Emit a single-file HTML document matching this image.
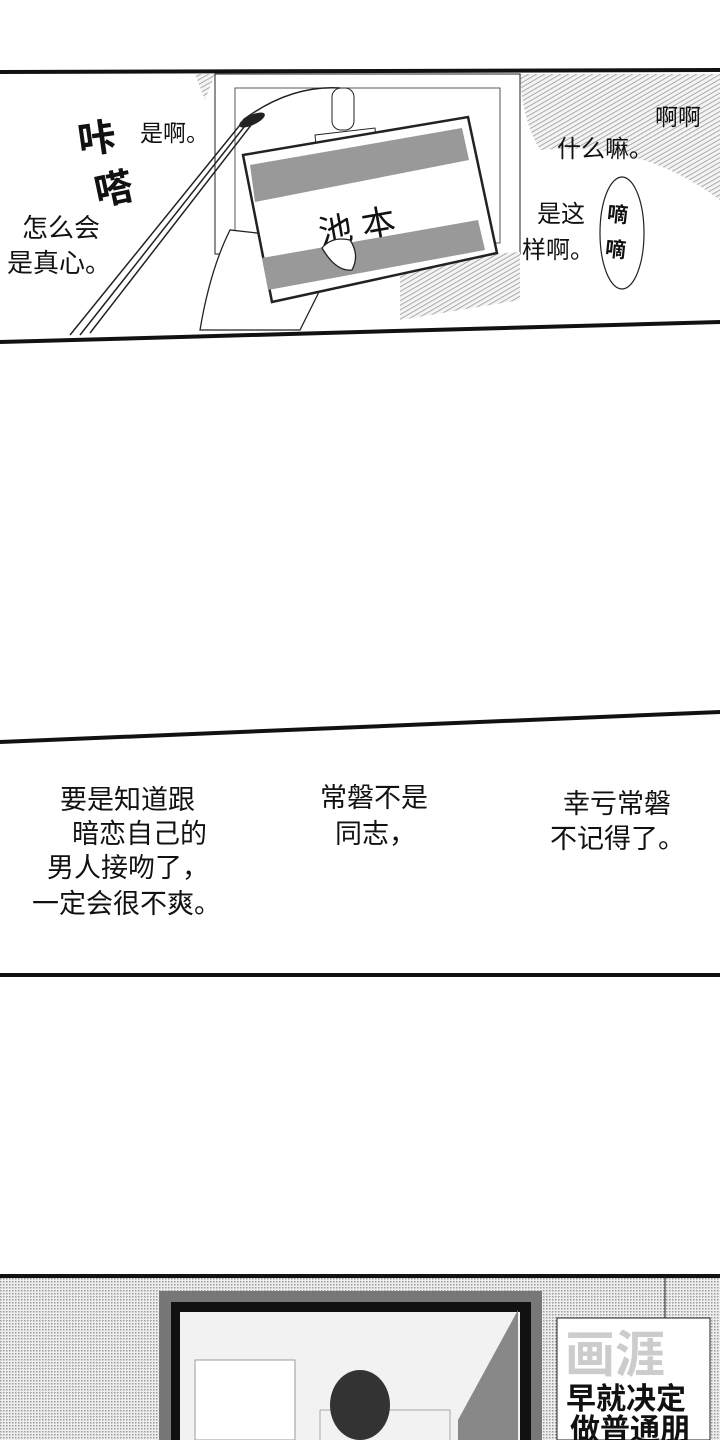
<!DOCTYPE html>
<html><head><meta charset="utf-8"><style>
html,body{margin:0;padding:0;background:#fff;}
body{width:720px;height:1440px;position:relative;overflow:hidden;font-family:"Liberation Sans","Noto Sans CJK SC",sans-serif;}
svg{position:absolute;left:0;top:0;}
text{font-family:"Liberation Sans","Noto Sans CJK SC",sans-serif;fill:#111;}
</style></head><body>
<svg width="720" height="1440" viewBox="0 0 720 1440">
<defs>
<pattern id="dots" width="3" height="3" patternUnits="userSpaceOnUse"><rect width="3" height="3" fill="#eee"/><rect width="1.5" height="1.5" fill="#999"/></pattern>
<pattern id="hatch" width="4" height="4" patternUnits="userSpaceOnUse" patternTransform="rotate(60)"><rect width="4" height="4" fill="#f4f4f4"/><rect width="1" height="4" fill="#aaa"/></pattern>
</defs>
<path d="M520 74 L720 74 L720 200 Q640 140 540 150 Q522 120 520 74Z" fill="url(#hatch)"/>
<path d="M195 74 L215 74 L205 100Z" fill="url(#hatch)"/>
<rect x="215" y="74" width="305" height="180" fill="#fff" stroke="#222" stroke-width="1"/>
<rect x="235" y="88" width="265" height="155" fill="#fff" stroke="#555" stroke-width="1"/>
<path d="M520 252 L520 300 L400 320 L400 260Z" fill="url(#hatch)"/>
<path d="M315 135 L375 128 L378 160 L318 165Z" fill="#fff" stroke="#222"/>
<rect x="332" y="88" width="22" height="42" rx="9" fill="#fff" stroke="#222"/>
<path d="M70 335 L240 125 M80 335 L248 122 M90 333 L255 120 M243 120 Q290 85 340 88" stroke="#222" fill="none" stroke-width="1.5"/>
<ellipse cx="252" cy="120" rx="14" ry="5" transform="rotate(-25 252 120)" fill="#222"/>
<path d="M230 230 Q210 270 200 330 L300 330 L320 290 Q340 280 355 240 Q340 232 320 240 Z" fill="#fff" stroke="#222" stroke-width="1.3"/>
<path d="M243 155 L468 117 L497 253 L272 302 Z" fill="#fff" stroke="#222" stroke-width="2.5"/>
<path d="M250 165 L462 128 L469 160 L255 202 Z" fill="#999"/>
<path d="M262 258 L478 220 L485 250 L268 290 Z" fill="#999"/>
<text x="318" y="238" font-size="34" transform="rotate(-10 360 225)">池 本</text>
<path d="M322 248 Q332 236 350 240 Q360 255 352 270 Q336 272 322 248Z" fill="#fff" stroke="#222" stroke-width="1.3"/>
<path d="M0 72 L720 70" stroke="#111" stroke-width="4"/>
<path d="M0 342 L720 322" stroke="#111" stroke-width="4"/>
<text x="78" y="152" font-size="38" font-weight="bold" transform="rotate(-8 95 140)">咔</text>
<text x="95" y="203" font-size="38" font-weight="bold" transform="rotate(-12 110 190)">嗒</text>
<text x="140" y="141" font-size="23">是啊。</text>
<text x="22" y="237" font-size="26">怎么会</text>
<text x="7" y="272" font-size="26">是真心。</text>
<text x="655" y="125" font-size="23">啊啊</text>
<text x="557" y="157" font-size="24">什么嘛。</text>
<text x="537" y="222" font-size="24">是这</text>
<text x="522" y="258" font-size="24">样啊。</text>
<ellipse cx="622" cy="233" rx="22" ry="56" fill="#fff" stroke="#222" stroke-width="1.2"/>
<text x="607" y="222" font-size="21" font-weight="bold" transform="rotate(6 620 215)">嘀</text>
<text x="605" y="257" font-size="21" font-weight="bold" transform="rotate(6 618 250)">嘀</text>
<path d="M0 742 L720 712" stroke="#111" stroke-width="4"/>
<text x="60" y="809" font-size="27">要是知道跟</text>
<text x="72" y="843" font-size="27">暗恋自己的</text>
<text x="47" y="877" font-size="27">男人接吻了，</text>
<text x="32" y="913" font-size="27">一定会很不爽。</text>
<text x="320" y="807" font-size="27">常磐不是</text>
<text x="335" y="843" font-size="27">同志，</text>
<text x="563" y="813" font-size="27">幸亏常磐</text>
<text x="550" y="848" font-size="27">不记得了。</text>
<path d="M0 975 L720 975" stroke="#111" stroke-width="4"/>
<rect x="0" y="1276" width="720" height="164" fill="url(#dots)"/>
<path d="M0 1276 L720 1276" stroke="#111" stroke-width="4"/>
<rect x="159" y="1291" width="383" height="149" fill="#777"/>
<rect x="171" y="1302" width="360" height="138" fill="#111"/>
<rect x="180" y="1312" width="340" height="128" fill="#f2f2f2"/>
<path d="M458 1420 L518 1310 L518 1440 L458 1440Z" fill="#888"/>
<rect x="195" y="1360" width="100" height="80" fill="#fff" stroke="#999"/>
<path d="M320 1410 L450 1410 L450 1440 M320 1410 L320 1440" fill="none" stroke="#aaa"/>
<ellipse cx="360" cy="1405" rx="30" ry="35" fill="#333"/>
<path d="M665 1276 L665 1318" stroke="#222"/>
<rect x="557" y="1318" width="153" height="122" fill="#fff" stroke="#222"/>
<text x="565" y="1372" font-size="50" font-weight="bold" style="fill:#ccc">画涯</text>
<text x="566" y="1409" font-size="30" font-weight="bold">早就决定</text>
<text x="570" y="1440" font-size="30" font-weight="bold">做普通朋</text>
</svg>
</body></html>
